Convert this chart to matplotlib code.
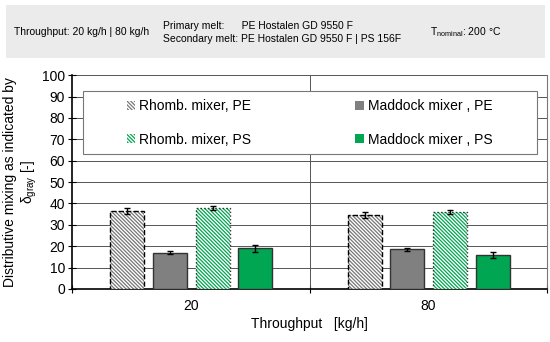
import numpy as np
import matplotlib.pyplot as plt
from matplotlib.patches import Rectangle

plt.rcParams['font.family'] = ['Liberation Sans', 'DejaVu Sans']
plt.rcParams['hatch.linewidth'] = 0.9

groups = ['20', '80']
series = ['Rhomb. mixer, PE', 'Maddock mixer , PE', 'Rhomb. mixer, PS', 'Maddock mixer , PS']
values = [[36.5, 34.5], [17.0, 18.5], [38.0, 36.0], [19.0, 16.0]]
errors = [[1.5, 1.5], [0.6, 0.6], [1.0, 1.0], [1.5, 1.5]]

green = '#00a651'
styles = [
    dict(color='white', edgecolor='#777777', hatch='\\' * 9, ls='--', ec2='black'),
    dict(color='#808080', edgecolor='#333333', hatch=None, ls='-', ec2='#333333'),
    dict(color='white', edgecolor=green, hatch='\\' * 9, ls=':', ec2='#333333'),
    dict(color=green, edgecolor='#333333', hatch=None, ls='-', ec2='#333333'),
]

fig = plt.figure(figsize=(5.5, 3.42), dpi=100)

# header banner
fig.patches.append(Rectangle((0.01, 0.83), 0.98, 0.155, transform=fig.transFigure,
                             facecolor='#ebebeb', edgecolor='none', zorder=0))
fig.text(0.025, 0.905, 'Throughput: 20 kg/h | 80 kg/h', fontsize=7.5, va='center')
fig.text(0.296, 0.925, 'Primary melt:      PE Hostalen GD 9550 F', fontsize=7.5, va='center')
fig.text(0.296, 0.885, 'Secondary melt: PE Hostalen GD 9550 F | PS 156F', fontsize=7.5, va='center')
fig.text(0.782, 0.905, r'T$_{\mathregular{nominal}}$: 200 °C', fontsize=7.5, va='center')

ax = fig.add_axes([0.131, 0.155, 0.864, 0.625])
x = np.array([0.5, 1.5])
offs = [-0.32, -0.14, 0.04, 0.22]
w = 0.143
handles = []
for i in range(4):
    st = styles[i]
    pos = x + offs[i] + w / 2 - 0.02
    b = ax.bar(pos, values[i], w, color=st['color'], edgecolor=st['edgecolor'],
               hatch=st['hatch'], linewidth=0, zorder=3)
    # outline
    ax.bar(pos, values[i], w, fill=False, edgecolor=st['ec2'], linestyle=st['ls'],
           linewidth=1.0, zorder=4)
    ax.errorbar(pos, values[i], yerr=errors[i], fmt='none', ecolor='black',
                elinewidth=1, capsize=2, zorder=5)
    handles.append(b)

ax.set_xlim(0, 2)
ax.set_ylim(0, 100)
ax.set_yticks(range(0, 101, 10))
ax.yaxis.grid(True, color='#555555', linewidth=0.7)
ax.axvline(1, color='#555555', linewidth=0.7, zorder=1)
ax.set_axisbelow(True)
ax.set_xticks([0, 1, 2])
ax.set_xticklabels([])
ax.set_xticks(x, minor=True)
ax.set_xticklabels(groups, minor=True, fontsize=10)
ax.tick_params(axis='x', which='minor', length=0, pad=7)
ax.tick_params(axis='x', which='major', direction='inout', length=6)
ax.tick_params(axis='y', direction='inout', length=6, labelsize=10, pad=2)
ax.spines['top'].set_visible(False)
ax.spines['right'].set_color('#777777')
ax.spines['left'].set_linewidth(1.2)
ax.spines['bottom'].set_linewidth(1.2)
ax.set_xlabel('Throughput   [kg/h]', fontsize=10, labelpad=3)
ax.set_ylabel('Distributive mixing as indicated by\n' + r'$\mathregular{\delta_{gray}}$ [-]',
              fontsize=10, labelpad=2)

# legend frame
ax.add_patch(Rectangle((0.024, 0.63), 0.955, 0.295, transform=ax.transAxes,
                       facecolor='white', edgecolor='#777777', linewidth=0.8, zorder=6))
leg = ax.legend([handles[k] for k in [0, 2, 1, 3]], [series[k] for k in [0, 2, 1, 3]],
                ncol=2, loc='center', bbox_to_anchor=(0.5, 0.7775),
                fontsize=10, frameon=False,
                handlelength=0.6, handleheight=0.6, handletextpad=0.3,
                columnspacing=7.5, labelspacing=1.4, borderaxespad=0)
leg.set_zorder(7)

fig.savefig('out.png', dpi=100)
